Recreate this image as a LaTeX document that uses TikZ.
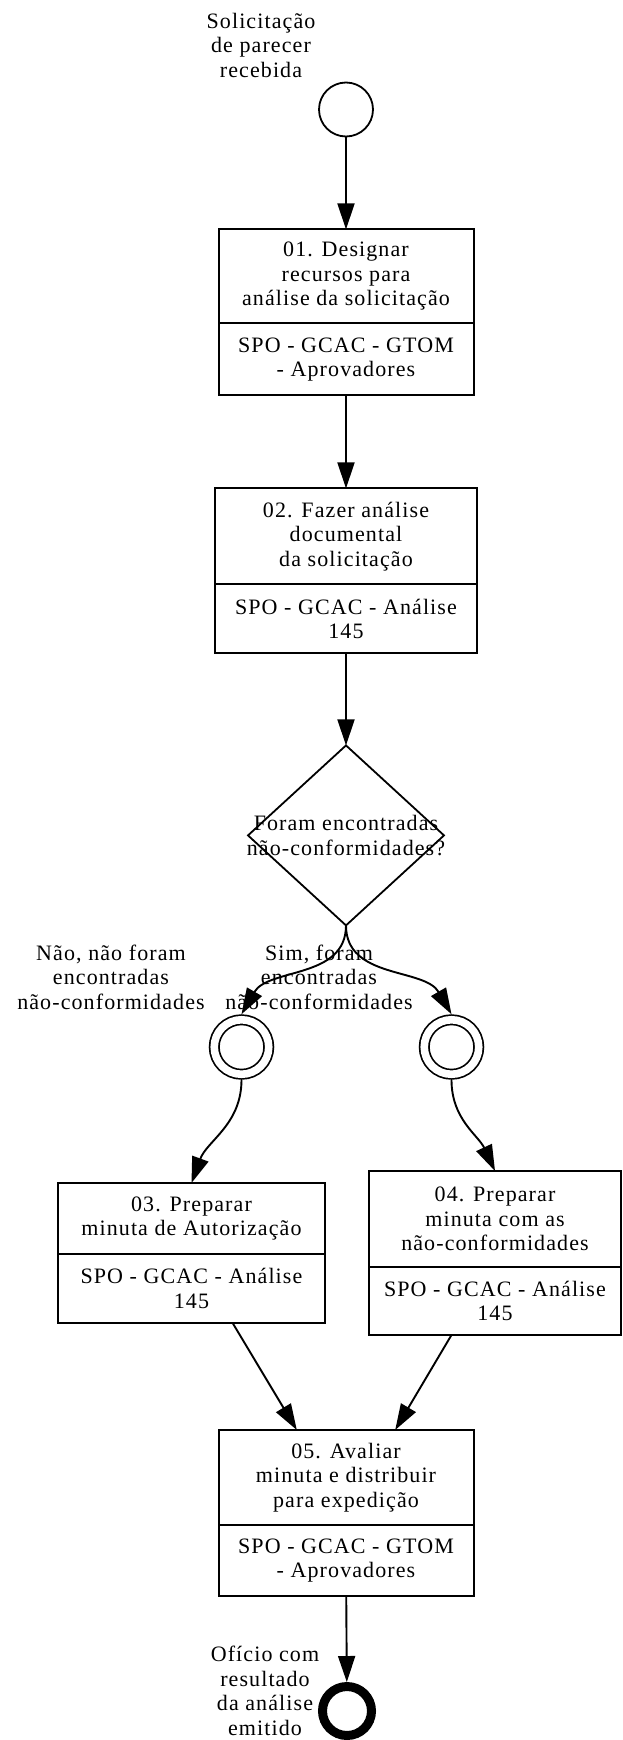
\documentclass[tikz,border=0pt]{standalone}
\usepackage{fontspec}
\setmainfont{Liberation Serif}[LetterSpace=5.0]
\usetikzlibrary{arrows.meta,shapes.geometric,positioning}

\begin{document}
\begin{tikzpicture}[x=1pt, y=1pt]
% STYLES
\tikzset{
    evento/.style={circle, draw, line width=1.8pt, minimum size=54pt, inner sep=0pt, outer sep=0.9pt},
    intermed/.style={circle, draw, line width=1.7pt, double, double distance=7.6pt,
    minimum size=54.5pt, inner sep=0pt, outer sep=5.5pt},
    fim/.style={circle, draw, line width=9pt, minimum size=49pt, inner sep=0pt, outer sep=4.5pt},
    tarefa/.style={rectangle, draw, line width=2pt, align=center, inner sep=0pt,
    outer sep=0pt, font=\fontsize{22}{24.5}\selectfont},
    decisao/.style={diamond, draw, line width=1.8pt, minimum width=196pt,
    minimum height=180pt, inner sep=0pt, outer sep=0pt},
    rotulo/.style={align=center, inner sep=0pt, font=\fontsize{22}{24.5}\selectfont},
    fluxo/.style={-{Triangle[length=26pt,width=17pt]}, line width=1.9pt}
}
\useasboundingbox (0,0) rectangle (622,-1740);

% Events and tasks
\node [evento] (Inicio) at (346,-109.5) {};
\node [rotulo] (InicioTxt) at (261,-45) {Solicitação\\de parecer\\recebida};

\node [tarefa, minimum width=255pt, minimum height=94pt, below=92pt of Inicio] (Designar)
    {01. Designar\\recursos para\\análise da solicitação};
\node [tarefa, minimum width=255pt, minimum height=72pt, below=0pt of Designar] (DesignarResp)
    {SPO - GCAC - GTOM\\- Aprovadores};

\node [tarefa, minimum width=262pt, minimum height=96pt, below=93pt of DesignarResp] (Analisar)
    {02. Fazer análise\\documental\\da solicitação};
\node [tarefa, minimum width=262pt, minimum height=69pt, below=0pt of Analisar] (AnalisarResp)
    {SPO - GCAC - Análise\\145};

\node [decisao, below=92pt of AnalisarResp,
    label={[rotulo]center:{Foram encontradas\\não-conformidades?}}] (Gateway) {};

\node [intermed] (NaoEvt) at (241.5,-1047) {};
\node [intermed] (SimEvt) at (451.5,-1047) {};
\node [rotulo] (NaoTxt) at (111,-977) {Não, não foram\\encontradas\\não-conformidades};
\node [rotulo] (SimTxt) at (319,-977) {Sim, foram\\encontradas\\não-conformidades};

\node [tarefa, minimum width=267pt, minimum height=71pt] (Autorizar) at (191.5,-1218.5)
    {03. Preparar\\minuta de Autorização};
\node [tarefa, minimum width=267pt, minimum height=69pt, below=0pt of Autorizar] (AutorizarResp)
    {SPO - GCAC - Análise\\145};

\node [tarefa, minimum width=252pt, minimum height=96pt] (Corrigir) at (495,-1219)
    {04. Preparar\\minuta com as\\não-conformidades};
\node [tarefa, minimum width=252pt, minimum height=68pt, below=0pt of Corrigir] (CorrigirResp)
    {SPO - GCAC - Análise\\145};

\node [tarefa, minimum width=255pt, minimum height=95pt] (Avaliar) at (346,-1477.5)
    {05. Avaliar\\minuta e distribuir\\para expedição};
\node [tarefa, minimum width=255pt, minimum height=71pt, below=0pt of Avaliar] (AvaliarResp)
    {SPO - GCAC - GTOM\\- Aprovadores};

\node [fim] (Fim) at (347,-1711) {};
\node [rotulo] (FimTxt) at (265,-1691) {Ofício com\\resultado\\da análise\\emitido};

% Draw the flows
\draw[fluxo] (Inicio) -- (Designar);
\draw[fluxo] (DesignarResp) -- (Analisar);
\draw[fluxo] (AnalisarResp) -- (Gateway);
\draw[fluxo] (Gateway.south) to[out=-90, in=60] (NaoEvt.north);
\draw[fluxo] (Gateway.south) to[out=-90, in=120] (SimEvt.north);
\draw[fluxo] (NaoEvt.south) to[out=-90, in=70] (Autorizar.north);
\draw[fluxo] (SimEvt.south) to[out=-90, in=115] (Corrigir.north);
\draw[fluxo] (AutorizarResp.-40) -- (Avaliar.136);
\draw[fluxo] (CorrigirResp.218) -- (Avaliar.44);
\draw[fluxo] (AvaliarResp) -- (Fim);
\end{tikzpicture}
\end{document}
